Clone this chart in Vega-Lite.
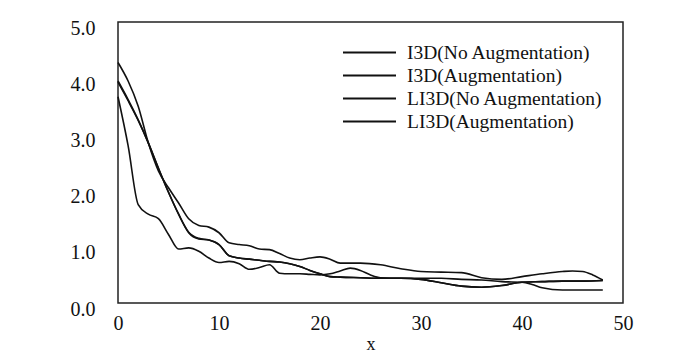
{
  "$schema": "https://vega.github.io/schema/vega-lite/v6.json",
  "width": 505,
  "height": 281,
  "autosize": {"type": "none"},
  "padding": {"left": 118, "top": 22, "right": 55, "bottom": 49},
  "background": "white",
  "config": {
    "font": "Liberation Serif",
    "view": {"stroke": "#222", "strokeWidth": 1.5},
    "axis": {"grid": false, "ticks": false, "domain": false, "labelFont": "Liberation Serif", "labelFontSize": 20, "labelColor": "#111", "titleFont": "Liberation Serif", "titleFontWeight": "normal", "titleFontSize": 18, "titleColor": "#111"}
  },
  "datasets": {
    "curves": [
      {"series": "I3D(No Augmentation)", "x": 0, "y": 4.28},
      {"series": "I3D(No Augmentation)", "x": 1, "y": 3.95},
      {"series": "I3D(No Augmentation)", "x": 2, "y": 3.5},
      {"series": "I3D(No Augmentation)", "x": 3, "y": 2.85},
      {"series": "I3D(No Augmentation)", "x": 4, "y": 2.35},
      {"series": "I3D(No Augmentation)", "x": 5, "y": 2.05},
      {"series": "I3D(No Augmentation)", "x": 6, "y": 1.78},
      {"series": "I3D(No Augmentation)", "x": 7, "y": 1.5},
      {"series": "I3D(No Augmentation)", "x": 8, "y": 1.38},
      {"series": "I3D(No Augmentation)", "x": 9, "y": 1.35},
      {"series": "I3D(No Augmentation)", "x": 10, "y": 1.25},
      {"series": "I3D(No Augmentation)", "x": 11, "y": 1.07},
      {"series": "I3D(No Augmentation)", "x": 12, "y": 1.04},
      {"series": "I3D(No Augmentation)", "x": 13, "y": 1.02},
      {"series": "I3D(No Augmentation)", "x": 14, "y": 0.96},
      {"series": "I3D(No Augmentation)", "x": 15, "y": 0.95},
      {"series": "I3D(No Augmentation)", "x": 16, "y": 0.88},
      {"series": "I3D(No Augmentation)", "x": 17, "y": 0.8},
      {"series": "I3D(No Augmentation)", "x": 18, "y": 0.77},
      {"series": "I3D(No Augmentation)", "x": 19, "y": 0.8},
      {"series": "I3D(No Augmentation)", "x": 20, "y": 0.82},
      {"series": "I3D(No Augmentation)", "x": 21, "y": 0.78},
      {"series": "I3D(No Augmentation)", "x": 22, "y": 0.71},
      {"series": "I3D(No Augmentation)", "x": 24, "y": 0.71},
      {"series": "I3D(No Augmentation)", "x": 26, "y": 0.68},
      {"series": "I3D(No Augmentation)", "x": 28, "y": 0.61},
      {"series": "I3D(No Augmentation)", "x": 30, "y": 0.56},
      {"series": "I3D(No Augmentation)", "x": 32, "y": 0.55},
      {"series": "I3D(No Augmentation)", "x": 34, "y": 0.54},
      {"series": "I3D(No Augmentation)", "x": 36, "y": 0.45},
      {"series": "I3D(No Augmentation)", "x": 38, "y": 0.42},
      {"series": "I3D(No Augmentation)", "x": 40, "y": 0.47},
      {"series": "I3D(No Augmentation)", "x": 42, "y": 0.52},
      {"series": "I3D(No Augmentation)", "x": 44, "y": 0.56},
      {"series": "I3D(No Augmentation)", "x": 45, "y": 0.57},
      {"series": "I3D(No Augmentation)", "x": 46, "y": 0.56},
      {"series": "I3D(No Augmentation)", "x": 47, "y": 0.5},
      {"series": "I3D(No Augmentation)", "x": 48, "y": 0.41},

      {"series": "I3D(Augmentation)", "x": 0, "y": 3.93},
      {"series": "I3D(Augmentation)", "x": 1, "y": 3.6},
      {"series": "I3D(Augmentation)", "x": 2, "y": 3.25},
      {"series": "I3D(Augmentation)", "x": 3, "y": 2.85},
      {"series": "I3D(Augmentation)", "x": 4, "y": 2.4},
      {"series": "I3D(Augmentation)", "x": 5, "y": 1.97},
      {"series": "I3D(Augmentation)", "x": 6, "y": 1.58},
      {"series": "I3D(Augmentation)", "x": 7, "y": 1.25},
      {"series": "I3D(Augmentation)", "x": 8, "y": 1.14},
      {"series": "I3D(Augmentation)", "x": 9, "y": 1.12},
      {"series": "I3D(Augmentation)", "x": 10, "y": 1.04},
      {"series": "I3D(Augmentation)", "x": 11, "y": 0.84},
      {"series": "I3D(Augmentation)", "x": 12, "y": 0.8},
      {"series": "I3D(Augmentation)", "x": 13, "y": 0.78},
      {"series": "I3D(Augmentation)", "x": 14, "y": 0.76},
      {"series": "I3D(Augmentation)", "x": 15, "y": 0.74},
      {"series": "I3D(Augmentation)", "x": 16, "y": 0.73},
      {"series": "I3D(Augmentation)", "x": 17, "y": 0.7},
      {"series": "I3D(Augmentation)", "x": 18, "y": 0.65},
      {"series": "I3D(Augmentation)", "x": 19, "y": 0.58},
      {"series": "I3D(Augmentation)", "x": 20, "y": 0.52},
      {"series": "I3D(Augmentation)", "x": 21, "y": 0.47},
      {"series": "I3D(Augmentation)", "x": 22, "y": 0.46},
      {"series": "I3D(Augmentation)", "x": 24, "y": 0.45},
      {"series": "I3D(Augmentation)", "x": 26, "y": 0.44},
      {"series": "I3D(Augmentation)", "x": 28, "y": 0.44},
      {"series": "I3D(Augmentation)", "x": 30, "y": 0.42},
      {"series": "I3D(Augmentation)", "x": 32, "y": 0.36},
      {"series": "I3D(Augmentation)", "x": 34, "y": 0.3},
      {"series": "I3D(Augmentation)", "x": 36, "y": 0.28},
      {"series": "I3D(Augmentation)", "x": 38, "y": 0.31},
      {"series": "I3D(Augmentation)", "x": 40, "y": 0.37},
      {"series": "I3D(Augmentation)", "x": 42, "y": 0.38},
      {"series": "I3D(Augmentation)", "x": 44, "y": 0.39},
      {"series": "I3D(Augmentation)", "x": 46, "y": 0.39},
      {"series": "I3D(Augmentation)", "x": 48, "y": 0.4},

      {"series": "LI3D(No Augmentation)", "x": 0, "y": 3.67},
      {"series": "LI3D(No Augmentation)", "x": 1, "y": 2.8},
      {"series": "LI3D(No Augmentation)", "x": 2, "y": 1.75},
      {"series": "LI3D(No Augmentation)", "x": 3, "y": 1.58},
      {"series": "LI3D(No Augmentation)", "x": 4, "y": 1.5},
      {"series": "LI3D(No Augmentation)", "x": 5, "y": 1.22},
      {"series": "LI3D(No Augmentation)", "x": 6, "y": 0.96},
      {"series": "LI3D(No Augmentation)", "x": 7, "y": 0.98},
      {"series": "LI3D(No Augmentation)", "x": 8, "y": 0.92},
      {"series": "LI3D(No Augmentation)", "x": 9, "y": 0.8},
      {"series": "LI3D(No Augmentation)", "x": 10, "y": 0.72},
      {"series": "LI3D(No Augmentation)", "x": 11, "y": 0.74},
      {"series": "LI3D(No Augmentation)", "x": 12, "y": 0.7},
      {"series": "LI3D(No Augmentation)", "x": 13, "y": 0.6},
      {"series": "LI3D(No Augmentation)", "x": 14, "y": 0.63},
      {"series": "LI3D(No Augmentation)", "x": 15, "y": 0.68},
      {"series": "LI3D(No Augmentation)", "x": 16, "y": 0.53},
      {"series": "LI3D(No Augmentation)", "x": 17, "y": 0.52},
      {"series": "LI3D(No Augmentation)", "x": 18, "y": 0.52},
      {"series": "LI3D(No Augmentation)", "x": 19, "y": 0.51},
      {"series": "LI3D(No Augmentation)", "x": 20, "y": 0.5},
      {"series": "LI3D(No Augmentation)", "x": 21, "y": 0.52},
      {"series": "LI3D(No Augmentation)", "x": 22, "y": 0.57},
      {"series": "LI3D(No Augmentation)", "x": 23, "y": 0.62},
      {"series": "LI3D(No Augmentation)", "x": 24, "y": 0.58},
      {"series": "LI3D(No Augmentation)", "x": 25, "y": 0.5},
      {"series": "LI3D(No Augmentation)", "x": 26, "y": 0.45},
      {"series": "LI3D(No Augmentation)", "x": 28, "y": 0.44},
      {"series": "LI3D(No Augmentation)", "x": 30, "y": 0.44},
      {"series": "LI3D(No Augmentation)", "x": 32, "y": 0.44},
      {"series": "LI3D(No Augmentation)", "x": 34, "y": 0.42},
      {"series": "LI3D(No Augmentation)", "x": 36, "y": 0.41},
      {"series": "LI3D(No Augmentation)", "x": 38, "y": 0.38},
      {"series": "LI3D(No Augmentation)", "x": 40, "y": 0.37},
      {"series": "LI3D(No Augmentation)", "x": 41, "y": 0.33},
      {"series": "LI3D(No Augmentation)", "x": 42, "y": 0.27},
      {"series": "LI3D(No Augmentation)", "x": 44, "y": 0.23},
      {"series": "LI3D(No Augmentation)", "x": 46, "y": 0.23},
      {"series": "LI3D(No Augmentation)", "x": 48, "y": 0.23},

      {"series": "LI3D(Augmentation)", "x": 0, "y": 3.95},
      {"series": "LI3D(Augmentation)", "x": 1, "y": 3.62},
      {"series": "LI3D(Augmentation)", "x": 2, "y": 3.26},
      {"series": "LI3D(Augmentation)", "x": 3, "y": 2.85},
      {"series": "LI3D(Augmentation)", "x": 4, "y": 2.4},
      {"series": "LI3D(Augmentation)", "x": 5, "y": 1.97},
      {"series": "LI3D(Augmentation)", "x": 6, "y": 1.58},
      {"series": "LI3D(Augmentation)", "x": 7, "y": 1.26},
      {"series": "LI3D(Augmentation)", "x": 8, "y": 1.15},
      {"series": "LI3D(Augmentation)", "x": 9, "y": 1.12},
      {"series": "LI3D(Augmentation)", "x": 10, "y": 1.04},
      {"series": "LI3D(Augmentation)", "x": 11, "y": 0.84},
      {"series": "LI3D(Augmentation)", "x": 12, "y": 0.8},
      {"series": "LI3D(Augmentation)", "x": 13, "y": 0.78},
      {"series": "LI3D(Augmentation)", "x": 14, "y": 0.76},
      {"series": "LI3D(Augmentation)", "x": 15, "y": 0.74},
      {"series": "LI3D(Augmentation)", "x": 16, "y": 0.73},
      {"series": "LI3D(Augmentation)", "x": 17, "y": 0.7},
      {"series": "LI3D(Augmentation)", "x": 18, "y": 0.65},
      {"series": "LI3D(Augmentation)", "x": 19, "y": 0.58},
      {"series": "LI3D(Augmentation)", "x": 20, "y": 0.52},
      {"series": "LI3D(Augmentation)", "x": 21, "y": 0.47},
      {"series": "LI3D(Augmentation)", "x": 22, "y": 0.46},
      {"series": "LI3D(Augmentation)", "x": 24, "y": 0.45},
      {"series": "LI3D(Augmentation)", "x": 26, "y": 0.44},
      {"series": "LI3D(Augmentation)", "x": 28, "y": 0.44},
      {"series": "LI3D(Augmentation)", "x": 30, "y": 0.42},
      {"series": "LI3D(Augmentation)", "x": 32, "y": 0.36},
      {"series": "LI3D(Augmentation)", "x": 34, "y": 0.3},
      {"series": "LI3D(Augmentation)", "x": 36, "y": 0.28},
      {"series": "LI3D(Augmentation)", "x": 38, "y": 0.31},
      {"series": "LI3D(Augmentation)", "x": 40, "y": 0.37},
      {"series": "LI3D(Augmentation)", "x": 42, "y": 0.38},
      {"series": "LI3D(Augmentation)", "x": 44, "y": 0.39},
      {"series": "LI3D(Augmentation)", "x": 46, "y": 0.39},
      {"series": "LI3D(Augmentation)", "x": 48, "y": 0.4}
    ]
  },
  "data": {"name": "curves"},
  "mark": {"type": "line", "interpolate": "monotone", "strokeWidth": 1.6},
  "encoding": {
    "x": {
      "field": "x", "type": "quantitative",
      "scale": {"domain": [0, 50], "nice": false, "zero": false},
      "axis": {"values": [0, 10, 20, 30, 40, 50], "format": "d", "labelFlush": false, "labelPadding": 10, "title": "x", "titlePadding": 2}
    },
    "y": {
      "field": "y", "type": "quantitative",
      "scale": {"domain": [0, 5], "nice": false},
      "axis": {"values": [0, 1, 2, 3, 4, 5], "format": ".1f", "labelPadding": 23, "labelOffset": 6, "labelFlush": false, "title": null}
    },
    "color": {
      "field": "series", "type": "nominal",
      "scale": {"domain": ["I3D(No Augmentation)", "I3D(Augmentation)", "LI3D(No Augmentation)", "LI3D(Augmentation)"], "range": ["#111", "#111", "#111", "#111"]},
      "legend": {
        "title": null, "orient": "none", "legendX": 224, "legendY": 19,
        "symbolType": "stroke", "symbolSize": 2809, "symbolStrokeWidth": 2,
        "labelFont": "Liberation Serif", "labelFontSize": 19.5, "labelColor": "#111", "labelOffset": 10, "labelLimit": 300,
        "clipHeight": 23, "rowPadding": 0
      }
    }
  }
}
